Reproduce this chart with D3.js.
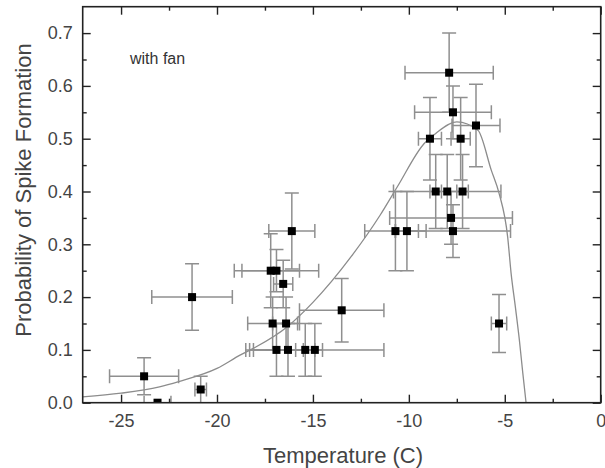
<!DOCTYPE html>
<html>
<head>
<meta charset="utf-8">
<script src="https://cdn.jsdelivr.net/npm/d3@7"></script>
<style>
  body { margin: 0; background: #fff; }
  svg { display: block; font-family: "Liberation Sans", Arial, sans-serif; }
</style>
</head>
<body>
<div id="chart"></div>
<script>
// measured points: temperature, probability and their error half-widths
var temps    = [-23.8, -23.1, -21.3, -20.85, -17.2, -16.9, -16.1, -16.55, -17.1, -16.4, -13.5, -16.9, -16.3, -15.4, -14.9, -10.7, -10.1, -8.9, -7.3, -7.9, -7.7, -6.5, -8.6, -8.0, -7.2, -7.8, -7.7, -5.3];
var probs    = [0.05, 0.0, 0.2, 0.025, 0.25, 0.25, 0.325, 0.225, 0.15, 0.15, 0.175, 0.1, 0.1, 0.1, 0.1, 0.325, 0.325, 0.5, 0.5, 0.625, 0.55, 0.525, 0.4, 0.4, 0.4, 0.35, 0.325, 0.15];
var tempErr  = [1.8, 0.7, 2.1, 0.3, 1.5, 2.2, 1.2, 0.5, 1.3, 0.7, 2.2, 1.4, 1.8, 0.5, 3.6, 1.6, 0.6, 0.6, 0.5, 2.3, 2.0, 1.25, 0.3, 2.8, 0.3, 3.2, 3.0, 0.4];
var probErr  = [0.035, 0, 0.063, 0.025, 0.07, 0.04, 0.072, 0.045, 0.05, 0.05, 0.06, 0.05, 0.05, 0.05, 0.05, 0.075, 0.075, 0.078, 0.078, 0.075, 0.05, 0.078, 0.07, 0.07, 0.07, 0.05, 0.05, 0.055];

// fitted curve
var fitT = [-27, -25, -23, -22, -20, -18.8, -18, -16.3, -15, -13, -11.5, -10.6, -9.2, -8.6, -7.5, -6.4, -5.7, -5.3, -4.85, -4.67, -4.45, -4.24, -4.06, -3.89];
var fitP = [0.011, 0.018, 0.03, 0.04, 0.065, 0.09, 0.105, 0.145, 0.19, 0.277, 0.355, 0.409, 0.491, 0.51, 0.532, 0.516, 0.44, 0.397, 0.314, 0.245, 0.182, 0.119, 0.056, 0.0];

var xTicks = [-25, -20, -15, -10, -5, 0];
var yTicks = [0, 0.1, 0.2, 0.3, 0.4, 0.5, 0.6, 0.7];

var W = 605, H = 468;
var m = {left: 82.7, right: 4.3, top: 6.7, bottom: 65.3};
var iw = W - m.left - m.right, ih = H - m.top - m.bottom;

var svg = d3.select("#chart").append("svg")
  .attr("width", W).attr("height", H);

var x = d3.scaleLinear().domain([-27, 0]).range([0, iw]);
var y = d3.scaleLinear().domain([0, 0.75]).range([ih, 0]);

var g = svg.append("g").attr("transform", "translate(" + m.left + "," + m.top + ")");

svg.append("defs").append("clipPath").attr("id", "clip")
  .append("rect").attr("width", iw).attr("height", ih);

var plot = g.append("g").attr("clip-path", "url(#clip)");

// fit line
var line = d3.line()
  .x(function(d, i) { return x(fitT[i]); })
  .y(function(d, i) { return y(fitP[i]); })
  .curve(d3.curveMonotoneX);
plot.append("path")
  .attr("d", line(fitT))
  .attr("fill", "none")
  .attr("stroke", "#8c8c8c")
  .attr("stroke-width", 1.3);

// error bars
var cap = 7;
var errCol = "#8f8f8f";
var bars = plot.append("g").attr("stroke", errCol).attr("stroke-width", 1.5);
temps.forEach(function(t, i) {
  var cx = x(t), cy = y(probs[i]);
  var x0 = x(t - tempErr[i]), x1 = x(t + tempErr[i]);
  bars.append("line").attr("x1", x0).attr("x2", x1).attr("y1", cy).attr("y2", cy);
  bars.append("line").attr("x1", x0).attr("x2", x0).attr("y1", cy - cap).attr("y2", cy + cap);
  bars.append("line").attr("x1", x1).attr("x2", x1).attr("y1", cy - cap).attr("y2", cy + cap);
  if (probErr[i] > 0) {
    var y0 = y(probs[i] - probErr[i]), y1 = y(probs[i] + probErr[i]);
    bars.append("line").attr("x1", cx).attr("x2", cx).attr("y1", y0).attr("y2", y1);
    bars.append("line").attr("x1", cx - cap).attr("x2", cx + cap).attr("y1", y0).attr("y2", y0);
    bars.append("line").attr("x1", cx - cap).attr("x2", cx + cap).attr("y1", y1).attr("y2", y1);
  }
});

// markers
var sz = 8;
plot.selectAll("rect.pt").data(temps).enter().append("rect")
  .attr("class", "pt")
  .attr("x", function(d) { return x(d) - sz / 2; })
  .attr("y", function(d, i) { return y(probs[i]) - sz / 2; })
  .attr("width", sz).attr("height", sz)
  .attr("fill", "#000");

// axes, ticks pointing inward on all sides
var xMinor = d3.range(-27.5, 0.1, 2.5).filter(function(v) { return v > -27 && xTicks.indexOf(v) < 0; });
var yMinor = d3.range(0.05, 0.75, 0.1);
var axCol = "#222";

function styleAxis(sel) {
  sel.select(".domain").remove();
  sel.selectAll("line").attr("stroke", axCol).attr("stroke-width", 1.4);
}

var fmtX = function(d) { return String(d); };
var fmtY = d3.format(".1f");

g.append("g").attr("transform", "translate(0," + ih + ")")
  .call(d3.axisBottom(x).tickValues(xTicks).tickSize(-8).tickSizeOuter(0).tickPadding(12).tickFormat(fmtX))
  .call(styleAxis)
  .selectAll("text").attr("font-size", 18).attr("fill", "#444").attr("font-family", "Liberation Sans, Arial, sans-serif");
g.append("g").attr("transform", "translate(0," + ih + ")")
  .call(d3.axisBottom(x).tickValues(xMinor).tickSize(-4).tickFormat(""))
  .call(styleAxis);
g.append("g")
  .call(d3.axisTop(x).tickValues(xTicks).tickSize(-8).tickFormat(""))
  .call(styleAxis);
g.append("g")
  .call(d3.axisTop(x).tickValues(xMinor).tickSize(-4).tickFormat(""))
  .call(styleAxis);

g.append("g")
  .call(d3.axisLeft(y).tickValues(yTicks).tickSize(-8).tickSizeOuter(0).tickPadding(10).tickFormat(fmtY))
  .call(styleAxis)
  .selectAll("text").attr("font-size", 18).attr("fill", "#444").attr("font-family", "Liberation Sans, Arial, sans-serif");
g.append("g")
  .call(d3.axisLeft(y).tickValues(yMinor).tickSize(-4).tickFormat(""))
  .call(styleAxis);
g.append("g").attr("transform", "translate(" + iw + ",0)")
  .call(d3.axisRight(y).tickValues(yTicks).tickSize(-8).tickFormat(""))
  .call(styleAxis);
g.append("g").attr("transform", "translate(" + iw + ",0)")
  .call(d3.axisRight(y).tickValues(yMinor).tickSize(-4).tickFormat(""))
  .call(styleAxis);

// frame
g.append("rect").attr("width", iw).attr("height", ih)
  .attr("fill", "none").attr("stroke", axCol).attr("stroke-width", 1.6);

// labels
svg.append("text")
  .attr("x", 130).attr("y", 64)
  .attr("font-size", 16).attr("fill", "#333")
  .text("with fan");

svg.append("text")
  .attr("x", 343).attr("y", 463)
  .attr("text-anchor", "middle")
  .attr("font-size", 22).attr("fill", "#444")
  .text("Temperature (C)");

svg.append("text")
  .attr("transform", "translate(31,190) rotate(-90)")
  .attr("text-anchor", "middle")
  .attr("font-size", 22).attr("fill", "#444")
  .text("Probability of Spike Formation");
</script>
</body>
</html>
